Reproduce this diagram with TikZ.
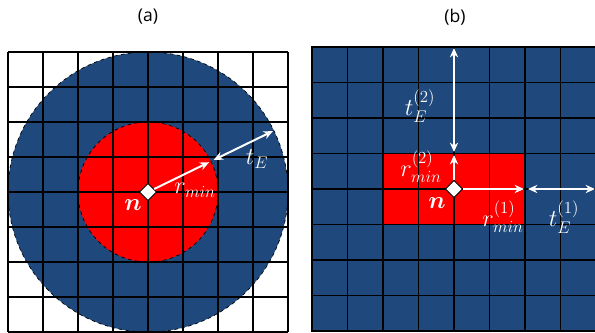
\documentclass[tikz,border=0pt]{standalone}
\usepackage{amsmath}
\usepackage{fontspec}
\setsansfont{Open Sans}
\usetikzlibrary{arrows.meta,shapes.geometric,calc}
\definecolor{cellblue}{RGB}{31,73,125}
\definecolor{cellred}{RGB}{255,0,0}
\tikzset{
  gridline/.style={line width=1.4pt},
  cellfont/.style={text=white,font=\fontsize{20}{23}\selectfont,inner sep=0pt},
  caption/.style={font=\sffamily\fontsize{15}{17}\selectfont},
  lenarrow/.style={white,line width=1.7pt,-{Stealth[length=8pt,width=7pt]}},
  lenboth/.style={white,line width=1.7pt,{Stealth[length=8pt,width=7pt]}-{Stealth[length=8pt,width=7pt]}},
  cellnode/.style={diamond,fill=white,draw=black,line width=0.8pt,inner sep=0pt,
    minimum width=0.52cm,minimum height=0.52cm}
}
\begin{document}
\begin{tikzpicture}[x=0.03cm,y=-0.03cm]
  \useasboundingbox (0,0) rectangle (595,332);
  % (a) circular window
  \node[caption] (capa) at (148,17) {(a)};
  \begin{scope}
    \clip (8,52) rectangle (288,332);
    \fill[cellblue] (148,192) circle (140);
    \draw[dashed,line width=0.6pt] (148,192) circle (140);
  \end{scope}
  \fill[cellred] (148,192) circle (70);
  \draw[dashed,line width=0.6pt] (148,192) circle (70);
  \foreach \i in {0,...,8} {
    \draw[gridline] (8+35*\i,52) -- (8+35*\i,332);
    \draw[gridline] (8,52+35*\i) -- (288,52+35*\i);
  }
  \node[cellnode] (na) at (148,192) {};
  \coordinate (ra) at ($(na)+(-26:68)$);
  \coordinate (ta1) at ($(na)+(-26:73)$);
  \coordinate (ta2) at ($(na)+(-26:139)$);
  \draw[lenarrow] (na) -- (ra);
  \draw[lenboth] (ta1) -- (ta2);
  \node[cellfont] (rmina) at (195,190) {$r_{min}$};
  \node[cellfont] (tea) at (257,159) {$t_E$};
  \node[cellfont] (nlaba) at (133,205) {$\boldsymbol{n}$};

  % (b) rectangular window
  \node[caption] (capb) at (455,17) {(b)};
  \fill[cellblue] (312,47) rectangle (596,331);
  \fill[cellred] (383,153.5) rectangle (525,224.5);
  \foreach \i in {0,...,8} {
    \draw[gridline] (312+35.5*\i,47) -- (312+35.5*\i,331);
    \draw[gridline] (312,47+35.5*\i) -- (596,47+35.5*\i);
  }
  \draw[line width=1.8pt] (312,47) rectangle (596,331);
  \node[cellnode] (nb) at (454,189) {};
  \coordinate (rb1) at (524,189);
  \coordinate (tb1a) at (528,189);
  \coordinate (tb1b) at (595,189);
  \coordinate (rb2) at (454,155);
  \coordinate (tb2a) at (454,152);
  \coordinate (tb2b) at (454,48);
  \draw[lenarrow] (nb) -- (rb1);
  \draw[lenboth] (tb1a) -- (tb1b);
  \draw[lenarrow] (nb) -- (rb2);
  \draw[lenboth] (tb2a) -- (tb2b);
  \node[cellfont] (teb2) at (420,106) {$t_E^{(2)}$};
  \node[cellfont] (rminb2) at (421,167) {$r_{min}^{(2)}$};
  \node[cellfont] (nlabb) at (437,203) {$\boldsymbol{n}$};
  \node[cellfont] (rminb1) at (503,217) {$r_{min}^{(1)}$};
  \node[cellfont] (teb1) at (564,217) {$t_E^{(1)}$};
\end{tikzpicture}
\end{document}
